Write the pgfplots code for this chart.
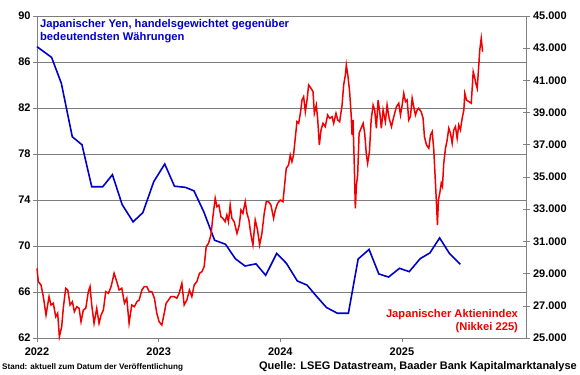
\documentclass[border=0pt]{standalone}
\usepackage{fontspec}
\setmainfont{Liberation Sans}
\setsansfont{Liberation Sans}
\usepackage{pgfplots}
\pgfplotsset{compat=1.18}
\definecolor{yenblue}{RGB}{0,0,204}
\definecolor{nkred}{RGB}{240,0,0}
\definecolor{gridgray}{RGB}{125,125,125}
\definecolor{axgray}{RGB}{128,128,128}
\newcommand{\tickfont}{\fontsize{11bp}{12bp}\selectfont\bfseries}
\begin{document}
\begin{tikzpicture}
\useasboundingbox (-37bp,-37bp) rectangle (543bp,338bp);
\begin{axis}[
  at={(0,0)}, anchor=south west,
  scale only axis, width=489bp, height=322bp,
  xmin=2022, xmax=2026.02, ymin=62, ymax=90,
  axis x line*=bottom, axis y line*=left,
  axis line style={axgray, line width=0.6pt},
  xtick={2022,2023,2024,2025},
  xticklabels={2022,2023,2024,2025},
  ytick={62,66,...,90},
  yticklabels={62,66,70,74,78,82,86,90},
  tick style={axgray, line width=0.6pt},
  major tick length=4bp,
  tick align=outside,
  ymajorgrids,
  grid style={gridgray, line width=0.6pt},
  ticklabel style={font=\tickfont},
  xticklabel style={yshift=-2bp},
  yticklabel style={xshift=1bp},
  clip=false,
]
\addplot[yenblue, line width=1.6pt] coordinates {
(2022.0,87.33) (2022.12,86.4) (2022.2,84.15) (2022.29,79.5) (2022.37,78.8)
(2022.45,75.15) (2022.54,75.15) (2022.62,76.2) (2022.7,73.6) (2022.79,72.1)
(2022.87,72.9) (2022.96,75.6) (2023.05,77.13) (2023.13,75.2) (2023.22,75.1)
(2023.29,74.8) (2023.37,73.0) (2023.46,70.5) (2023.55,70.15) (2023.63,68.9)
(2023.71,68.26) (2023.8,68.45) (2023.88,67.45) (2023.97,69.35) (2024.05,68.5)
(2024.14,66.96) (2024.22,66.6) (2024.3,65.6) (2024.38,64.65) (2024.47,64.15)
(2024.56,64.15) (2024.64,68.87) (2024.73,69.7) (2024.81,67.57) (2024.89,67.3)
(2024.98,68.06) (2025.06,67.77) (2025.15,68.9) (2025.23,69.4) (2025.31,70.7)
(2025.39,69.36) (2025.48,68.4)
};
\node[anchor=north west, inner sep=0pt, align=left, text=yenblue,
  font=\fontsize{11.2bp}{13bp}\selectfont\bfseries]
  at (axis description cs:0.006,0.99)
  {Japanischer Yen, handelsgewichtet gegenüber\\bedeutendsten Währungen};
\end{axis}
\begin{axis}[
  at={(0,0)}, anchor=south west,
  scale only axis, width=489bp, height=322bp,
  xmin=2022, xmax=2026.02, ymin=25000, ymax=45000,
  axis x line=none, axis y line*=right,
  axis line style={axgray, line width=0.6pt},
  ytick={25000,27000,...,45000},
  yticklabels={25.000,27.000,29.000,31.000,33.000,35.000,37.000,39.000,41.000,43.000,45.000},
  scaled y ticks=false,
  tick style={axgray, line width=0.6pt},
  major tick length=7bp,
  tick align=center,
  ticklabel style={font=\tickfont},
  yticklabel style={xshift=0bp},
  clip=false,
]
\addplot[nkred, line width=1.5pt] coordinates {
(2022.000,29330) (2022.011,28500) (2022.033,28290) (2022.052,27570) (2022.074,26430)
(2022.099,27570) (2022.115,27050) (2022.134,27160) (2022.154,26320) (2022.170,26535)
(2022.184,25080) (2022.203,25700) (2022.216,26845) (2022.236,28090) (2022.253,27980)
(2022.272,27050) (2022.291,27255) (2022.307,26635) (2022.327,26945) (2022.346,26845)
(2022.362,26010) (2022.381,26740) (2022.401,26845) (2022.422,27880) (2022.436,28190)
(2022.450,27050) (2022.469,25910) (2022.491,26845) (2022.510,25910) (2022.527,26430)
(2022.546,26740) (2022.565,27880) (2022.587,27780) (2022.609,28190) (2022.634,29020)
(2022.656,28500) (2022.675,27980) (2022.697,28090) (2022.719,27160) (2022.738,27470)
(2022.757,25910) (2022.779,27050) (2022.801,26945) (2022.821,27255) (2022.840,27360)
(2022.862,27980) (2022.881,28190) (2022.903,28190) (2022.922,27880) (2022.944,27880)
(2022.965,27470) (2022.985,26535) (2023.004,26010) (2023.026,25810) (2023.040,26320)
(2023.062,27160) (2023.081,27360) (2023.100,27570) (2023.128,27570) (2023.150,27470)
(2023.169,27780) (2023.191,28400) (2023.210,27050) (2023.232,27360) (2023.253,27980)
(2023.273,27570) (2023.292,28290) (2023.314,28500) (2023.336,29020) (2023.356,29120)
(2023.374,29430) (2023.391,30670) (2023.410,30880) (2023.430,31400) (2023.446,32535)
(2023.465,33680) (2023.479,33155) (2023.495,33260) (2023.512,32535) (2023.528,32435)
(2023.547,32225) (2023.561,32640) (2023.574,32225) (2023.588,33260) (2023.602,32435)
(2023.621,32225) (2023.644,31500) (2023.663,32020) (2023.677,32950) (2023.693,32745)
(2023.712,33465) (2023.726,32745) (2023.742,32330) (2023.759,31400) (2023.775,30780)
(2023.794,32330) (2023.813,31710) (2023.830,30780) (2023.849,31500) (2023.868,32745)
(2023.885,33465) (2023.904,33465) (2023.923,33260) (2023.945,32435) (2023.959,32950)
(2023.978,33365) (2024.000,33570) (2024.022,33465) (2024.033,34300) (2024.049,35540)
(2024.068,35745) (2024.082,36365) (2024.096,35950) (2024.109,36365) (2024.123,37400)
(2024.137,38435) (2024.151,38335) (2024.165,38955) (2024.179,39780) (2024.192,39990)
(2024.206,39055) (2024.220,39780) (2024.233,40715) (2024.253,40510) (2024.269,40300)
(2024.280,38955) (2024.296,39470) (2024.307,38645) (2024.321,36990) (2024.335,37920)
(2024.351,38335) (2024.370,38125) (2024.389,38850) (2024.406,38645) (2024.426,38745)
(2024.439,38335) (2024.458,38955) (2024.472,38540) (2024.488,38435) (2024.508,39470)
(2024.521,40715) (2024.535,41335) (2024.543,41955) (2024.557,41230) (2024.570,40300)
(2024.582,38955) (2024.590,37610) (2024.598,38540) (2024.609,35540) (2024.617,33055)
(2024.626,34505) (2024.636,35125) (2024.648,37715) (2024.664,38025) (2024.681,38335)
(2024.694,37715) (2024.708,36365) (2024.718,35850) (2024.733,36570) (2024.747,38540)
(2024.763,39470) (2024.776,39160) (2024.790,38025) (2024.804,39780) (2024.817,39055)
(2024.831,38025) (2024.845,39160) (2024.864,38435) (2024.878,39470) (2024.895,38645)
(2024.914,38125) (2024.933,38745) (2024.955,39365) (2024.974,39580) (2024.988,38850)
(2025.002,39470) (2025.015,40200) (2025.029,39680) (2025.043,39780) (2025.056,38540)
(2025.070,38745) (2025.084,39890) (2025.097,39365) (2025.111,38850) (2025.125,39160)
(2025.138,39270) (2025.158,39055) (2025.174,38645) (2025.185,37505) (2025.202,36990)
(2025.221,36785) (2025.235,37610) (2025.249,37815) (2025.262,36680) (2025.273,35020)
(2025.284,33365) (2025.292,32020) (2025.300,33570) (2025.311,33990) (2025.323,34610)
(2025.333,34400) (2025.344,35850) (2025.358,36785) (2025.372,37300) (2025.385,38025)
(2025.399,37715) (2025.413,37095) (2025.426,37920) (2025.440,38125) (2025.454,37405)
(2025.467,38230) (2025.481,37920) (2025.495,38645) (2025.509,39160) (2025.517,40200)
(2025.531,39780) (2025.550,39680) (2025.570,39580) (2025.586,41540) (2025.597,41230)
(2025.607,40820) (2025.619,40510) (2025.630,41750) (2025.640,42890) (2025.652,43615)
(2025.663,42780)
};
\node[anchor=south east, inner sep=0pt, align=right, text=nkred,
  font=\fontsize{11.2bp}{13bp}\selectfont\bfseries]
  at (axis description cs:0.984,0.016)
  {Japanischer Aktienindex\\(Nikkei 225)};
\end{axis}
\node[anchor=west, inner sep=0pt, font=\fontsize{8.1bp}{9bp}\selectfont\bfseries]
  at (-35bp,-29bp) {Stand: aktuell zum Datum der Veröffentlichung};
\node[anchor=east, inner sep=0pt, font=\fontsize{11bp}{12bp}\selectfont\bfseries]
  at (540bp,-29bp) {Quelle: LSEG Datastream, Baader Bank Kapitalmarktanalyse};
\end{tikzpicture}
\end{document}
